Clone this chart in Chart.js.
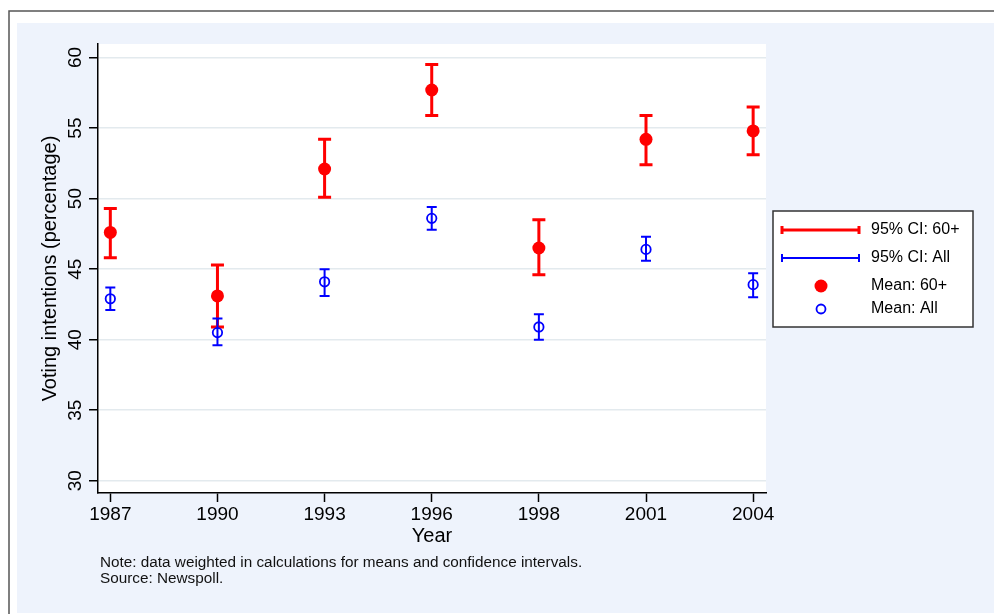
<!DOCTYPE html>
<html>
<head>
<meta charset="utf-8">
<script src="https://cdn.jsdelivr.net/npm/chart.js@4"></script>
<style>
  html, body { margin: 0; padding: 0; background: #fff; }
  canvas { display: block; }
</style>
</head>
<body>
<canvas id="ciChart" width="994" height="614"></canvas>
<script>
// data
const years = ["1987", "1990", "1993", "1996", "1998", "2001", "2004"];
const mean60 = [47.6, 43.1, 52.1, 57.7, 46.5, 54.2, 54.8];
const lo60 = [45.8, 40.9, 50.1, 55.9, 44.6, 52.4, 53.1];
const hi60 = [49.3, 45.3, 54.2, 59.5, 48.5, 55.9, 56.5];
const meanAll = [42.9, 40.5, 44.1, 48.6, 40.9, 46.4, 43.9];
const loAll = [42.1, 39.6, 43.1, 47.8, 40.0, 45.6, 43.0];
const hiAll = [43.7, 41.5, 45.0, 49.4, 41.8, 47.3, 44.7];
const yTicks = [30, 35, 40, 45, 50, 55, 60];
const legendLabels = ["95% CI: 60+", "95% CI: All", "Mean: 60+", "Mean: All"];
const noteLines = [
  "Note: data weighted in calculations for means and confidence intervals.",
  "Source: Newspoll."
];

const FONT = "'Liberation Sans', Arial, Helvetica, sans-serif";
const RED = "#ff0000";
const BLUE = "#0000ff";
const BG = "#eef3fc";

const errorBars = [
  { lo: lo60, hi: hi60, color: RED, width: 3, cap: 6.5 },
  { lo: loAll, hi: hiAll, color: BLUE, width: 2, cap: 5 },
];

// frame, plot background, error bars, legend and note
const stataLook = {
  id: "stataLook",
  beforeDraw(chart) {
    const { ctx, chartArea: a } = chart;
    ctx.save();
    ctx.fillStyle = "#fff";
    ctx.fillRect(0, 0, chart.width, chart.height);
    ctx.fillStyle = BG;
    ctx.fillRect(17, 23, chart.width - 17, chart.height - 24);
    ctx.strokeStyle = "#555";
    ctx.lineWidth = 1.5;
    ctx.beginPath();
    ctx.moveTo(9, chart.height);
    ctx.lineTo(9, 11);
    ctx.lineTo(chart.width, 11);
    ctx.stroke();
    ctx.fillStyle = "#fff";
    ctx.fillRect(a.left, a.top, a.right - a.left, a.bottom - a.top);
    ctx.restore();
  },
  beforeDatasetsDraw(chart) {
    const { ctx } = chart;
    const x = chart.scales.x, y = chart.scales.y;
    ctx.save();
    errorBars.forEach((eb) => {
      ctx.strokeStyle = eb.color;
      ctx.lineWidth = eb.width;
      years.forEach((_, i) => {
        const px = x.getPixelForValue(i);
        const top = y.getPixelForValue(eb.hi[i]);
        const bot = y.getPixelForValue(eb.lo[i]);
        ctx.beginPath();
        ctx.moveTo(px, top);
        ctx.lineTo(px, bot);
        ctx.moveTo(px - eb.cap, top);
        ctx.lineTo(px + eb.cap, top);
        ctx.moveTo(px - eb.cap, bot);
        ctx.lineTo(px + eb.cap, bot);
        ctx.stroke();
      });
    });
    ctx.restore();
  },
  afterDraw(chart) {
    const { ctx } = chart;
    ctx.save();
    // legend box
    ctx.fillStyle = "#fff";
    ctx.fillRect(773, 211, 200, 116);
    ctx.strokeStyle = "#333";
    ctx.lineWidth = 1.5;
    ctx.strokeRect(773, 211, 200, 116);

    const rowY = [230, 258, 286, 309];
    [[RED, 3], [BLUE, 2]].forEach(([c, w], k) => {
      const yy = rowY[k];
      ctx.strokeStyle = c;
      ctx.lineWidth = w;
      ctx.beginPath();
      ctx.moveTo(782, yy);
      ctx.lineTo(859, yy);
      ctx.moveTo(782, yy - 4);
      ctx.lineTo(782, yy + 4);
      ctx.moveTo(859, yy - 4);
      ctx.lineTo(859, yy + 4);
      ctx.stroke();
    });
    ctx.fillStyle = RED;
    ctx.beginPath();
    ctx.arc(821, rowY[2], 6.5, 0, Math.PI * 2);
    ctx.fill();
    ctx.strokeStyle = BLUE;
    ctx.lineWidth = 1.8;
    ctx.beginPath();
    ctx.arc(821, rowY[3], 4.5, 0, Math.PI * 2);
    ctx.stroke();

    ctx.fillStyle = "#000";
    ctx.font = "16px " + FONT;
    ctx.textBaseline = "middle";
    ctx.textAlign = "left";
    legendLabels.forEach((t, k) => ctx.fillText(t, 871, rowY[k]));

    // note under the plot
    ctx.fillStyle = "#111";
    ctx.font = "15.3px " + FONT;
    noteLines.forEach((t, k) => ctx.fillText(t, 100, 563 + k * 16));
    ctx.restore();
  },
};

new Chart(document.getElementById("ciChart"), {
  type: "scatter",
  data: {
    datasets: [
      {
        label: "Mean: All",
        data: years.map((_, i) => ({ x: i, y: meanAll[i] })),
        pointStyle: "circle",
        pointRadius: 4.7,
        pointBackgroundColor: "rgba(0,0,0,0)",
        pointBorderColor: BLUE,
        pointBorderWidth: 1.8,
      },
      {
        label: "Mean: 60+",
        data: years.map((_, i) => ({ x: i, y: mean60[i] })),
        pointStyle: "circle",
        pointRadius: 6.5,
        pointBackgroundColor: RED,
        pointBorderWidth: 0,
      },
    ],
  },
  options: {
    responsive: false,
    devicePixelRatio: 1,
    animation: false,
    events: [],
    layout: { padding: { left: 0, top: 44, right: 228, bottom: 61 } },
    plugins: { legend: { display: false }, tooltip: { enabled: false } },
    scales: {
      x: {
        type: "linear",
        min: -0.115,
        max: 6.12,
        afterBuildTicks: (axis) => { axis.ticks = years.map((_, i) => ({ value: i })); },
        afterFit: (scale) => { scale.height = 60; },
        border: { display: true, color: "#000", width: 1.5 },
        grid: { display: true, drawOnChartArea: false, drawTicks: true, tickLength: 9, tickColor: "#000", tickWidth: 1.5 },
        ticks: {
          autoSkip: false, maxRotation: 0, minRotation: 0, padding: 1,
          color: "#000", font: { family: FONT, size: 19 },
          callback: (v) => years[v],
        },
        title: { display: true, text: "Year", color: "#000", font: { family: FONT, size: 20 }, padding: { top: 0, bottom: 5 } },
      },
      y: {
        type: "linear",
        min: 29.13,
        max: 60.96,
        afterBuildTicks: (axis) => { axis.ticks = yTicks.map((v) => ({ value: v })); },
        afterFit: (scale) => { scale.width = 98; },
        border: { display: true, color: "#000", width: 1.5 },
        grid: { display: true, drawOnChartArea: true, color: "#e3eaee", lineWidth: 1.5, drawTicks: true, tickLength: 9, tickColor: "#000", tickWidth: 1.5 },
        ticks: {
          autoSkip: false, minRotation: 90, maxRotation: 90, crossAlign: "center", padding: 3,
          color: "#000", font: { family: FONT, size: 19 },
          callback: (v) => String(v),
        },
        title: { display: true, text: "Voting intentions (percentage)", color: "#000", font: { family: FONT, size: 20 }, padding: { top: 38, bottom: 0 } },
      },
    },
  },
  plugins: [stataLook],
});
</script>
</body>
</html>
